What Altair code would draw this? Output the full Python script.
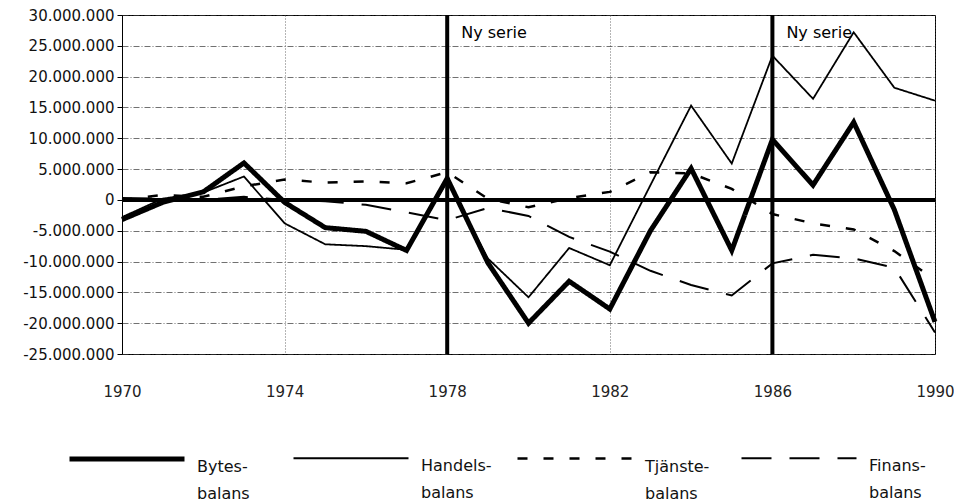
import altair as alt
import pandas as pd

# ---- data (values in millions) ----
years = list(range(1970, 1991))
series_names = ["Bytesbalans", "Handelsbalans", "Tjänstebalans", "Finansbalans"]
bytes_m = [-3.2, -0.4, 1.3, 6.0, -0.4, -4.5, -5.1, -8.2, 3.5, -10.2, -20.0,
           -13.2, -17.7, -5.0, 5.1, -8.2, 9.8, 2.4, 12.6, -1.6, -19.8]
handels_m = [-2.8, 0.2, 1.2, 3.8, -3.8, -7.2, -7.5, -8.1, 3.0, -9.5, -15.8,
             -7.8, -10.6, 2.4, 15.3, 5.9, 23.4, 16.4, 27.2, 18.2, 16.1]
tjanste_m = [0.0, 0.8, 0.5, 2.2, 3.3, 2.8, 3.0, 2.7, 4.5, 0.2, -1.2,
             0.3, 1.3, 4.5, 4.3, 1.8, -2.3, -3.8, -4.8, -8.3, -13.0]
finans_m = [0.3, 0.2, 0.0, 0.5, 0.0, -0.2, -0.8, -2.0, -3.3, -1.3, -2.6,
            -6.0, -8.4, -11.5, -13.8, -15.5, -10.3, -8.9, -9.5, -11.0, -21.5]
break_years = [1978, 1986]
break_label = "Ny serie"
y_ticks = list(range(-25_000_000, 30_000_001, 5_000_000))
x_ticks = [1970, 1974, 1978, 1982, 1986, 1990]

rows = []
for name, vals in zip(series_names, [bytes_m, handels_m, tjanste_m, finans_m]):
    for yr, v in zip(years, vals):
        rows.append({"År": yr, "Serie": name, "Värde": v * 1_000_000})
df = pd.DataFrame(rows)
breaks = pd.DataFrame({"År": break_years, "Text": [break_label] * len(break_years)})

FONT = "DejaVu Sans"

x_scale = alt.Scale(domain=[1970, 1990], nice=False, zero=False)
y_scale = alt.Scale(domain=[-25_000_000, 30_000_000], nice=False, zero=False)

x_axis = alt.Axis(values=x_ticks, format="d", title=None, ticks=False, domain=False,
                  labelPadding=30, labelFlush=False, labelOverlap=False,
                  labelLineHeight=16,
                  grid=True, gridDash=[1, 2], gridColor="#444",
                  gridWidth=0.8, labelFont=FONT, labelFontSize=15, labelColor="#222")
y_axis = alt.Axis(values=y_ticks, title=None, tickSize=5, tickColor="black",
                  domainColor="black", labelPadding=3, labelFont=FONT, labelFontSize=15,
                  labelColor="#111", labelOverlap=False, labelFlush=False,
                  labelSeparation=0, labelBound=False, labelLineHeight=15,
                  grid=True, gridDash=[6, 2, 1, 2], gridColor="#333",
                  gridWidth=0.7,
                  labelExpr="replace(replace(replace(format(datum.value, ','), ',', '.'), ',', '.'), '−', '-')")

legend = alt.Legend(title=None, orient="none", legendX=-55, legendY=384,
                    direction="horizontal", columns=4, symbolType="stroke",
                    symbolSize=13225, symbolStrokeColor="black", labelFont=FONT,
                    labelFontSize=16, labelColor="#111", labelBaseline="top",
                    labelOffset=10, columnPadding=20, gridAlign="all", padding=0,
                    labelLimit=0,
                    labelExpr="[replace(datum.label, 'balans', '-'), 'balans']")

lines = alt.Chart(df).mark_line(color="black", strokeJoin="miter").encode(
    x=alt.X("År:Q", scale=x_scale, axis=x_axis),
    y=alt.Y("Värde:Q", scale=y_scale, axis=y_axis),
    strokeDash=alt.StrokeDash("Serie:N", sort=series_names,
                              scale=alt.Scale(type="ordinal", domain=series_names,
                                              range=[[1, 0], [1, 0], [10, 16], [30, 18]]),
                              legend=legend),
    strokeWidth=alt.StrokeWidth("Serie:N", sort=series_names,
                                scale=alt.Scale(type="ordinal", domain=series_names,
                                                range=[5.0, 1.8, 2.5, 2.0]),
                                legend=legend),
    detail="Serie:N",
)

zero = alt.Chart(df).mark_rule(color="black", strokeWidth=2.5).encode(
    y=alt.datum(0, scale=y_scale, axis=y_axis)
)

vrules = alt.Chart(breaks).mark_rule(color="black", strokeWidth=4).encode(
    x=alt.X("År:Q", scale=x_scale, axis=x_axis)
)

vtext = alt.Chart(breaks).mark_text(align="left", baseline="middle", dx=14,
                                    font=FONT, fontSize=16, color="black").encode(
    x=alt.X("År:Q", scale=x_scale, axis=x_axis),
    y=alt.datum(27_000_000, scale=y_scale, axis=y_axis),
    text="Text:N",
)

chart = alt.layer(lines, zero, vrules, vtext).properties(
    width=813, height=339,
    autosize=alt.AutoSizeParams(type="none"),
    padding={"left": 114, "top": 7, "right": 19, "bottom": 150},
).configure(
    style={"guide-label": {"lineHeight": 27}}
).configure_axis(labelOverlap=False).configure_view(stroke="black", strokeWidth=1)

chart.save("out.html", embed_options={"renderer": "svg", "actions": False})
